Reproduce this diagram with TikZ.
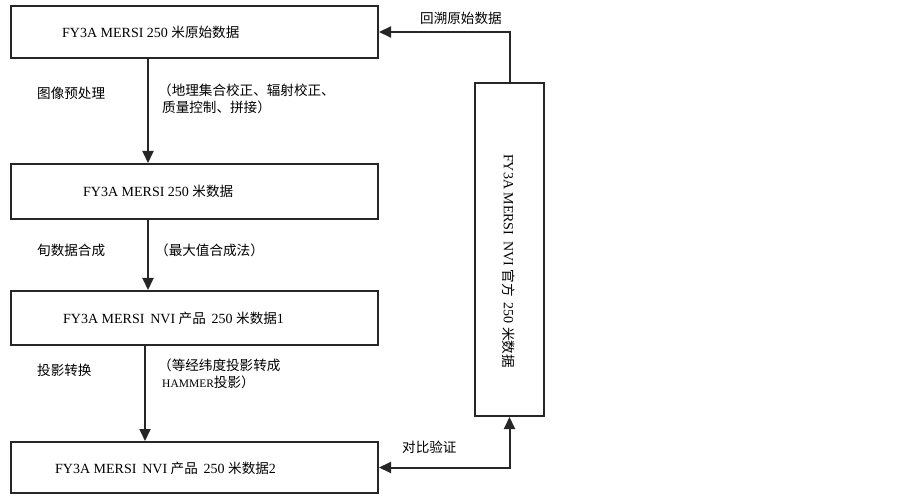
\documentclass[tikz,border=0pt]{standalone}
\usepackage{fontspec}
\setmainfont{Liberation Serif}
\newfontfamily\cjk{Noto Sans CJK SC}[Scale=0.97]
\usetikzlibrary{arrows.meta,calc}
\newcommand{\zh}[1]{{\cjk #1}}
\begin{document}
\begin{tikzpicture}[x=1pt,y=-1pt,
  box/.style={draw=black!85,line width=2pt,rectangle,inner sep=0pt,anchor=north west},
  tip/.tip={Triangle[length=12pt,width=11pt]},
  arr/.style={draw=black!85,line width=2pt,-tip},
  lbl/.style={font=\fontsize{14}{16}\selectfont,inner sep=0pt,anchor=west},
  sml/.style={font=\fontsize{14}{18}\selectfont,inner sep=0pt,anchor=west,align=left}]
\useasboundingbox (0,0) rectangle (903,497);
% boxes
\node[box,minimum width=367pt,minimum height=52pt] (b1) at (10,5) {};
\node[box,minimum width=367pt,minimum height=55pt] (b2) at (10,163) {};
\node[box,minimum width=367pt,minimum height=54pt] (b3) at (10,290) {};
\node[box,minimum width=367pt,minimum height=51pt] (b4) at (10,441) {};
\node[box,minimum width=69pt,minimum height=333pt] (r) at (474,82) {};
% box texts
\node[lbl] (t1) at (62,32) {FY3A MERSI 250 \zh{米原始数据}};
\node[lbl] (t2) at (83,191) {FY3A MERSI 250 \zh{米数据}};
\node[lbl] (t3) at (63,318) {FY3A MERSI\, NVI \zh{产品}\, 250 \zh{米数据}1};
\node[lbl] (t4) at (55,468) {FY3A MERSI\, NVI \zh{产品}\, 250 \zh{米数据}2};
\node[lbl,rotate=-90,anchor=center] (tr) at (509,261) {FY3A MERSI\, NVI \zh{官方}\, 250 \zh{米数据}};
% side labels
\node[sml] (l1) at (37,93) {\zh{图像预处理}};
\node[sml] (l1b) at (158,99) {\zh{（地理集合校正、辐射校正、}\\[-1pt]\hspace{4pt}\zh{质量控制、拼接）}};
\node[sml] (l2) at (37,250) {\zh{旬数据合成}};
\node[sml] (l2b) at (155,250) {\zh{（最大值合成法）}};
\node[sml] (l3) at (37,370) {\zh{投影转换}};
\node[sml] (l3b) at (158,374) {\zh{（等经纬度投影转成}\\[-1pt]\hspace{4pt}{\fontsize{11.5}{13}\selectfont HAMMER}\zh{投影）}};
\node[sml] (l4) at (420,18) {\zh{回溯原始数据}};
\node[sml] (l5) at (402,447) {\zh{对比验证}};
% connectors
\draw[arr] ($(b1.south west)+(138,0)$) -- ($(b2.north west)+(138,0)$);
\draw[arr] ($(b2.south west)+(138,0)$) -- ($(b3.north west)+(138,0)$);
\draw[arr] ($(b3.south west)+(135,0)$) -- ($(b4.north west)+(135,0)$);
\draw[arr] (r.north) |- (b1.east);
\draw[arr,tip-tip] (b4.east) -| (r.south);
\end{tikzpicture}
\end{document}
